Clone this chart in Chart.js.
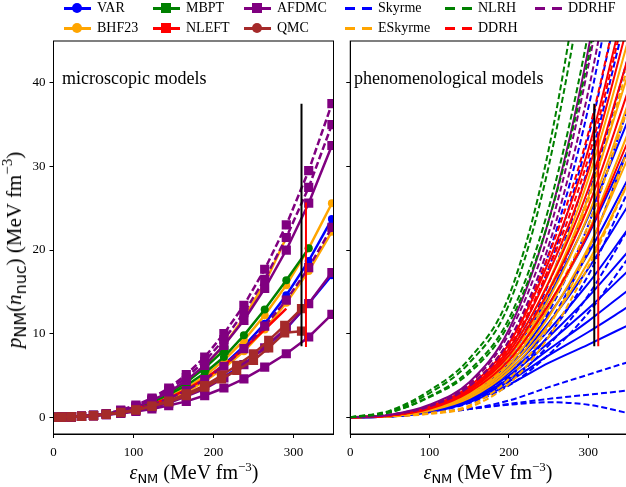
<!DOCTYPE html>
<html>
<head>
<meta charset="utf-8">
<script src="https://cdn.jsdelivr.net/npm/chart.js@4.4.0/dist/chart.umd.min.js"></script>
<style>
  body { margin: 0; width: 626px; height: 487px; position: relative; overflow: hidden; background: #fff;
         font-family: 'Liberation Serif', 'DejaVu Serif', serif; color: #000; }
  canvas { position: absolute; top: 0; }
  #left { left: 0; }
  #right { left: 340px; }
  .item { position: absolute; height: 16px; font-size: 14px; line-height: 16px; white-space: nowrap; }
  .handle { position: absolute; left: 0; top: 7px; width: 27px; height: 3px; }
  .mk { position: absolute; width: 10px; height: 10px; left: 8px; top: 3px; }
  .txt { position: absolute; left: 33px; top: 0; }
  .title { position: absolute; font-size: 20px; white-space: nowrap; line-height: 20px; }
  .sub { font-family: 'DejaVu Sans', sans-serif; font-size: 13px; position: relative; top: 4px; }
  .sup { font-size: 13px; position: relative; top: -8px; }
  .ytitle { font-size: 21px; }
  .ytitle .sub { font-size: 16px; top: 5px; }
  .ytitle .sup { font-size: 15px; top: -9px; }
  .note { position: absolute; font-size: 18px; white-space: nowrap; line-height: 18px; }
</style>
</head>
<body>
<canvas id="left" width="340" height="487"></canvas>
<canvas id="right" width="300" height="487"></canvas>
<div id="legend"></div>

<div class="note" style="left:62px; top:69px;">microscopic models</div>
<div class="note" style="left:354px; top:69px;">phenomenological models</div>

<div class="title" style="left:194px; top:473px; transform:translate(-50%,-50%);"><i>ε</i><span class="sub">NM</span> (MeV fm<span class="sup">−3</span>)</div>
<div class="title" style="left:488px; top:473px; transform:translate(-50%,-50%);"><i>ε</i><span class="sub">NM</span> (MeV fm<span class="sup">−3</span>)</div>
<div class="title ytitle" style="left:15px; top:250px; transform:translate(-50%,-50%) rotate(-90deg);"><i>p</i><span class="sub">NM</span>(<i>n</i><span class="sub">nuc</span>) (MeV fm<span class="sup">−3</span>)</div>

<script>
// axis ticks
const xTicks = [0, 100, 200, 300]
const yTicks = [0, 10, 20, 30, 40]

// ---- microscopic models (left) ----
const micEps = [0, 10, 22, 35, 50, 66, 84, 103, 123, 144, 166, 189, 213, 238, 264, 291, 319, 348]
const var1 = [0, 0.02, 0.05, 0.1, 0.2, 0.33, 0.55, 0.9, 1.45, 2.2, 3.2, 4.5, 6.3, 8.5, 11.2, 14.6, 18.7, 23.7]
const var2 = [0, 0.02, 0.05, 0.1, 0.2, 0.32, 0.52, 0.82, 1.25, 1.8, 2.6, 3.6, 4.8, 6.4, 8.3, 10.6, 13.6, 17.0]
const bhf1 = [0, 0.02, 0.05, 0.1, 0.2, 0.35, 0.6, 1.0, 1.6, 2.4, 3.5, 4.9, 6.8, 9.2, 12.2, 15.8, 20.2, 25.6]
const bhf2 = [0, 0.02, 0.05, 0.1, 0.2, 0.33, 0.55, 0.9, 1.4, 2.1, 3.0, 4.3, 5.9, 7.9, 10.5, 13.7, 17.5, 22.2]
const bhf3 = [0, 0.02, 0.05, 0.1, 0.2, 0.36, 0.66, 1.1, 1.8, 2.8, 4.2, 6.1, 8.6, 11.9, 16.0, 21.5, null, null]
const mbpt1 = [0, 0.02, 0.05, 0.1, 0.22, 0.4, 0.7, 1.15, 1.8, 2.7, 3.8, 5.3, 7.2, 9.8, 12.9, 16.4, 20.2, null]
const mbpt2 = [0, 0.02, 0.05, 0.1, 0.22, 0.42, 0.72, 1.2, 1.9, 2.9, 4.2, 5.9, 8.0, null, null, null, null, null]
const nleft1 = [0, 0.02, 0.05, 0.1, 0.22, 0.38, 0.62, 1.0, 1.55, 2.3, 3.3, 4.6, 6.2, 8.2, 10.5, 13.0, null, null]
const afdmcDashed = [
  [0, 0.02, 0.05, 0.1, 0.25, 0.45, 0.85, 1.45, 2.3, 3.5, 5.1, 7.2, 10, 13.4, 17.7, 23, 29.5, 37.5],
  [0, 0.02, 0.05, 0.1, 0.22, 0.42, 0.8, 1.35, 2.15, 3.25, 4.75, 6.7, 9.3, 12.5, 16.5, 21.5, 27.5, 35],
  [0, 0.02, 0.05, 0.1, 0.2, 0.35, 0.6, 1.0, 1.5, 2.2, 3.2, 4.5, 6.1, 8.2, 10.9, 14, 17.9, 22.7]
]
const afdmcSolid = [
  [0, 0.02, 0.05, 0.1, 0.2, 0.4, 0.75, 1.25, 2.0, 3.0, 4.4, 6.2, 8.6, 11.6, 15.4, 20, 25.6, 32.5],
  [0, 0.02, 0.05, 0.1, 0.2, 0.32, 0.5, 0.8, 1.2, 1.7, 2.5, 3.4, 4.7, 6.3, 8.3, 10.7, 13.6, 17.3],
  [0, 0.02, 0.05, 0.1, 0.2, 0.3, 0.45, 0.7, 1.0, 1.4, 1.9, 2.6, 3.5, 4.6, 6.0, 7.6, 9.6, 12.3]
]
const qmcEps = [0, 10, 22, 35, 50, 66, 84, 103, 123, 144, 166, 189, 210, 229, 250, 269, 289, 310]
const qmc1 = [0, 0.02, 0.05, 0.1, 0.2, 0.35, 0.55, 0.85, 1.3, 1.85, 2.6, 3.6, 4.6, 5.6, 6.8, 8.3, 10.1, 10.3]
const qmc2 = [0, 0.02, 0.05, 0.1, 0.2, 0.36, 0.58, 0.9, 1.35, 1.95, 2.8, 3.8, 5.0, 6.2, 7.6, 9.2, 11.0, 13.0]

// vertical bands: [eps, low, high]
const micBlackBar = [310, 8.5, 37.5]
const micRedBar = [315.6, 8.4, 25.7]
const phenBlackBar = [307.5, 8.5, 37.5]
const phenRedBar = [312.5, 8.5, 34]

// ---- phenomenological models (right) ----
const phenEps = [0, 50, 100, 150, 200, 250, 300, 350]
const skyrmeSolid = [
  [0, 0.1, 0.6, 1.8, 3.9, 6.5, 8.7, 11],
  [0, 0.1, 0.7, 2.0, 4.3, 7.4, 10.2, 13.2],
  [0, 0.1, 0.7, 2.1, 4.6, 8.1, 11.5, 15.2],
  [0, 0.1, 0.8, 2.2, 5.0, 8.9, 13, 17.5],
  [0, 0.1, 0.8, 2.3, 5.3, 9.6, 14.4, 19.8],
  [0, 0.1, 0.8, 2.4, 5.6, 10.4, 16, 22.5],
  [0, 0.2, 0.9, 2.6, 6.0, 11.3, 17.8, 25.3],
  [0, 0.2, 0.9, 2.7, 6.4, 12.2, 19.6, 28.5],
  [0, 0.2, 1.0, 2.9, 6.9, 13.4, 21.8, 32],
  [0, 0.2, 1.0, 3.0, 7.3, 14.5, 24, 35.5]
]
const skyrmeDashed = [
  [0, 0.2, 1.2, 3.6, 8.8, 19.5, 37, 62],
  [0, 0.2, 1.1, 3.3, 8.0, 17.8, 33.5, 55],
  [0, 0.2, 1.0, 3.0, 7.3, 16, 30, 49],
  [0, 0.2, 0.9, 2.7, 6.6, 14.2, 26.5, 43],
  [0, 0.2, 0.9, 2.5, 6.0, 12.6, 23, 37],
  [0, 0.1, 0.8, 2.3, 5.4, 11.2, 20, 32],
  [0, 0.1, 0.7, 2.1, 4.8, 9.8, 17, 27],
  [0, 0.1, 0.7, 1.9, 4.3, 8.6, 14.6, 22.5],
  [0, 0.1, 0.6, 1.7, 3.8, 7.5, 12.5, 19],
  [0, 0.1, 0.5, 1.0, 2.0, 3.6, 5.1, 6.6],
  [0, 0.1, 0.5, 1.0, 1.6, 2.2, 2.7, 3.2],
  [0, 0.1, 0.5, 1.0, 1.5, 1.8, 1.5, 0.5]
]
const eskyrmeSolid = [
  [0, 0.2, 1.1, 3.2, 7.8, 16.2, 28.5, 45],
  [0, 0.2, 1.0, 3.0, 7.3, 15.2, 26.3, 41],
  [0, 0.2, 1.0, 2.8, 6.8, 14.1, 24.2, 37.5],
  [0, 0.2, 0.9, 2.6, 6.3, 13, 22.2, 34],
  [0, 0.2, 0.9, 2.5, 5.9, 12, 20.3, 31],
  [0, 0.1, 0.8, 2.3, 5.5, 11.1, 18.6, 28]
]
const eskyrmeDashed = [
  [0, 0.2, 1.0, 2.9, 7.1, 14.8, 26, 42],
  [0, 0.2, 0.9, 2.7, 6.5, 13.4, 23, 37],
  [0, 0.1, 0.5, 1.4, 4.6, 10.8, 20, 32],
  [0, 0.1, 0.4, 1.2, 4.0, 9.6, 18, 28]
]
const ddrhSolid = [
  [0, 0.2, 1.3, 3.7, 8.8, 18.6, 32, 51],
  [0, 0.2, 1.2, 3.5, 8.2, 17.2, 29.5, 47],
  [0, 0.2, 1.2, 3.4, 7.8, 16.1, 27.3, 43],
  [0, 0.2, 1.1, 3.2, 7.4, 15.1, 25.2, 39],
  [0, 0.2, 1.0, 3.0, 6.8, 13.5, 22, 33]
]
const ddrhDashed = [
  [0, 0.3, 1.3, 3.8, 9.1, 19.4, 34, 55],
  [0, 0.2, 1.2, 3.5, 8.4, 17.8, 31, 50]
]
const ddrhfSolid = [
  [0, 0.3, 1.5, 4.2, 10.5, 23.5, 44, 72]
]
const ddrhfDashed = [
  [0, 0.3, 1.4, 4.0, 10, 22, 42, 69],
  [0, 0.3, 1.3, 3.7, 9.2, 20.5, 39, 65]
]
const nlrhDashed = [
  [0, 0.8, 3.2, 7.0, 14.5, 32, 60, 95],
  [0, 0.7, 2.9, 6.5, 13.5, 30, 56, 90],
  [0, 0.6, 2.5, 5.6, 11.8, 25, 46, 75],
  [0, 0.6, 2.4, 5.3, 11.2, 23.5, 43, 70]
]

const BLUE = '#0000ff', ORANGE = '#ffa500', GREEN = '#008000', RED = '#ff0000', PURPLE = '#800080', BROWN = '#a52a2a'

const legendItems = [
  { label: 'VAR', color: BLUE, marker: 'circle', col: 0, row: 0 },
  { label: 'BHF23', color: ORANGE, marker: 'circle', col: 0, row: 1 },
  { label: 'MBPT', color: GREEN, marker: 'square', col: 1, row: 0 },
  { label: 'NLEFT', color: RED, marker: 'square', col: 1, row: 1 },
  { label: 'AFDMC', color: PURPLE, marker: 'square', col: 2, row: 0 },
  { label: 'QMC', color: BROWN, marker: 'circle', col: 2, row: 1 },
  { label: 'Skyrme', color: BLUE, marker: 'dash', col: 3, row: 0 },
  { label: 'ESkyrme', color: ORANGE, marker: 'dash', col: 3, row: 1 },
  { label: 'NLRH', color: GREEN, marker: 'dash', col: 4, row: 0 },
  { label: 'DDRH', color: RED, marker: 'dash', col: 4, row: 1 },
  { label: 'DDRHF', color: PURPLE, marker: 'dash', col: 5, row: 0 }
]
const colX = [64, 153, 244, 345, 445, 535]
const rowY = [0, 20]

const legend = document.getElementById('legend')
legendItems.forEach(it => {
  const d = document.createElement('div')
  d.className = 'item'
  d.style.left = colX[it.col] + 'px'
  d.style.top = rowY[it.row] + 'px'
  let html
  if (it.marker === 'dash') {
    html = `<div class="handle" style="background:repeating-linear-gradient(to right, ${it.color} 0 10px, transparent 10px 17px)"></div>`
  } else {
    html = `<div class="handle" style="background:${it.color}"></div>` +
      `<div class="mk" style="background:${it.color};border-radius:${it.marker === 'circle' ? '50%' : '0'}"></div>`
  }
  d.innerHTML = html + `<span class="txt">${it.label}</span>`
  legend.appendChild(d)
})

Chart.defaults.font.family = "'Liberation Serif', 'DejaVu Serif', serif"
Chart.defaults.font.size = 13
Chart.defaults.color = '#000'

const framePlugin = {
  id: 'frame',
  afterDraw(chart) {
    const { ctx, chartArea: a } = chart
    ctx.save()
    ctx.strokeStyle = '#000'
    ctx.lineWidth = 1
    ctx.strokeRect(a.left, a.top, a.right - a.left, a.bottom - a.top)
    ctx.restore()
  }
}

function toPoints(xs, ys) {
  return xs.map((x, i) => ({ x: x, y: ys[i] })).filter(p => p.y !== null && p.y !== undefined)
}

function micLine(xs, ys, color, style, dashed) {
  return {
    data: toPoints(xs, ys),
    borderColor: color,
    backgroundColor: color,
    borderWidth: 2.5,
    borderDash: dashed ? [7, 3] : [],
    pointStyle: style,
    pointRadius: style === 'rect' ? 6.5 : (style === false ? 0 : 4),
    pointBorderWidth: 0,
    tension: 0,
    fill: false,
    clip: 0
  }
}

function phenLine(ys, color, dashed) {
  return {
    data: toPoints(phenEps, ys),
    borderColor: color,
    borderWidth: 2,
    borderDash: dashed ? [6, 3] : [],
    pointRadius: 0,
    cubicInterpolationMode: 'monotone',
    fill: false,
    clip: 0
  }
}

function bar(b, color) {
  return {
    data: [{ x: b[0], y: b[1] }, { x: b[0], y: b[2] }],
    borderColor: color,
    borderWidth: 2,
    pointRadius: 0,
    fill: false,
    clip: 0
  }
}

function axes(showY, yWidth) {
  const grid = { drawOnChartArea: false, color: '#000', tickLength: 4, tickWidth: 1 }
  return {
    x: {
      type: 'linear', min: 0, max: 350,
      afterBuildTicks: s => { s.ticks = xTicks.map(v => ({ value: v })) },
      afterFit: s => { s.height = 53 },
      grid: grid,
      border: { color: '#000', width: 1 },
      ticks: { color: '#000', font: { size: 13 }, padding: 7, maxRotation: 0 }
    },
    y: {
      type: 'linear', min: -2, max: 45,
      afterBuildTicks: s => { s.ticks = yTicks.map(v => ({ value: v })) },
      afterFit: s => { s.width = yWidth },
      grid: grid,
      border: { color: '#000', width: 1 },
      ticks: { display: showY, color: '#000', font: { size: 13 }, padding: 4 }
    }
  }
}

function baseOptions(showY, yWidth, padRight) {
  return {
    responsive: false,
    animation: false,
    devicePixelRatio: 1,
    events: [],
    layout: { padding: { top: 41, right: padRight, left: 0, bottom: 0 } },
    plugins: { legend: { display: false }, tooltip: { enabled: false } },
    scales: axes(showY, yWidth)
  }
}

// paint order: first listed is painted first (bottom)
const micSets = [
  micLine(micEps, var1, BLUE, 'circle', false),
  micLine(micEps, var2, BLUE, 'circle', false),
  micLine(micEps, bhf1, ORANGE, 'circle', false),
  micLine(micEps, bhf2, ORANGE, 'circle', false),
  micLine(micEps, bhf3, ORANGE, 'circle', false),
  micLine(micEps, mbpt1, GREEN, 'circle', false),
  micLine(micEps, mbpt2, GREEN, 'rect', false),
  micLine(micEps, nleft1, RED, false, false),
  ...afdmcSolid.map(ys => micLine(micEps, ys, PURPLE, 'rect', false)),
  ...afdmcDashed.map(ys => micLine(micEps, ys, PURPLE, 'rect', true)),
  micLine(qmcEps, qmc1, BROWN, 'rect', false),
  micLine(qmcEps, qmc2, BROWN, 'rect', false),
  bar(micBlackBar, '#000'),
  bar(micRedBar, RED)
]

const phenSets = [
  ...skyrmeSolid.map(ys => phenLine(ys, BLUE, false)),
  ...skyrmeDashed.map(ys => phenLine(ys, BLUE, true)),
  ...eskyrmeDashed.map(ys => phenLine(ys, ORANGE, true)),
  ...eskyrmeSolid.map(ys => phenLine(ys, ORANGE, false)),
  ...ddrhSolid.map(ys => phenLine(ys, RED, false)),
  ...ddrhDashed.map(ys => phenLine(ys, RED, true)),
  ...ddrhfDashed.map(ys => phenLine(ys, PURPLE, true)),
  ...ddrhfSolid.map(ys => phenLine(ys, PURPLE, false)),
  ...nlrhDashed.map(ys => phenLine(ys, GREEN, true)),
  bar(phenBlackBar, '#000'),
  bar(phenRedBar, RED)
]

// Chart.js paints dataset 0 last, so reverse
new Chart(document.getElementById('left'), {
  type: 'line',
  data: { datasets: micSets.reverse() },
  options: baseOptions(true, 53.5, 6),
  plugins: [framePlugin]
})

new Chart(document.getElementById('right'), {
  type: 'line',
  data: { datasets: phenSets.reverse() },
  options: baseOptions(false, 8, 12),
  plugins: [framePlugin]
})
</script>
</body>
</html>
